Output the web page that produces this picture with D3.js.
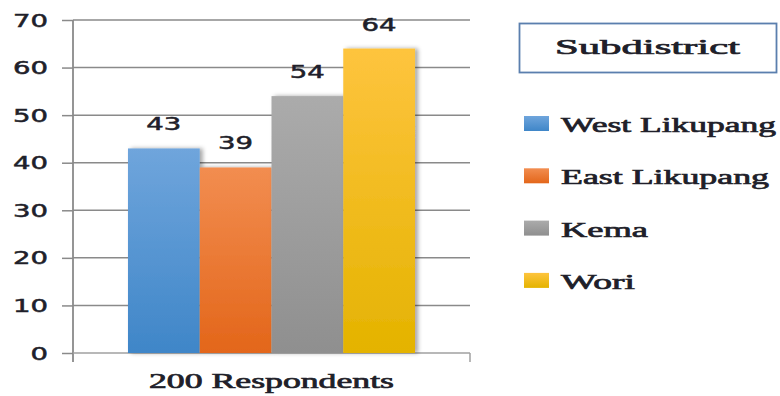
<!DOCTYPE html>
<html>
<head>
<meta charset="utf-8">
<script src="https://cdn.jsdelivr.net/npm/d3@7"></script>
<style>
  html, body { margin: 0; padding: 0; background: #fff; }
  svg { display: block; }
</style>
</head>
<body>
<div id="chart"></div>
<script>
// ---- data ----
const category = "200 Respondents";
const seriesNames = ["West Likupang", "East Likupang", "Kema", "Wori"];
const seriesValues = [43, 39, 54, 64];
const yTicks = [0, 10, 20, 30, 40, 50, 60, 70];
const legendTitle = "Subdistrict";
const colorsTop = ["#6fa5dc", "#f28d50", "#ababab", "#fec43e"];
const colorsBottom = ["#3f86c8", "#e3661a", "#8f8f8f", "#e4b300"];

const W = 780, H = 396;
const svg = d3.select("#chart").append("svg").attr("width", W).attr("height", H);

const defs = svg.append("defs");
seriesNames.forEach((s, i) => {
  const g = defs.append("linearGradient").attr("id", "grad" + i)
    .attr("x1", 0).attr("y1", 0).attr("x2", 0).attr("y2", 1);
  g.append("stop").attr("offset", "0%").attr("stop-color", colorsTop[i]);
  g.append("stop").attr("offset", "100%").attr("stop-color", colorsBottom[i]);
});
const f = defs.append("filter").attr("id", "shadow").attr("x", "-20%").attr("y", "-5%").attr("width", "140%").attr("height", "110%");
f.append("feDropShadow").attr("dx", 3).attr("dy", 0).attr("stdDeviation", 2.2)
  .attr("flood-color", "#000").attr("flood-opacity", 0.35);

const x0 = 73, x1 = 470, y0 = 353, y1 = 20;
const y = d3.scaleLinear().domain([0, 70]).range([y0, y1]);
const xBand = d3.scaleBand().domain([category]).range([x0, x1]).paddingInner(0).paddingOuter(0.1916);
const xInner = d3.scaleBand().domain(seriesNames).range([0, xBand.bandwidth()]).padding(0);

const axisColor = "#8a8a8a";
const textColor = "#1f1f2a";
const serif = "Liberation Serif";

// gridlines
svg.append("g").selectAll("line").data(yTicks.filter(t => t > 0)).join("line")
  .attr("x1", x0).attr("x2", x1).attr("y1", d => y(d)).attr("y2", d => y(d))
  .attr("stroke", axisColor).attr("stroke-width", 1.5);

// y axis
const yAxis = d3.axisLeft(y).tickValues(yTicks).tickSize(11).tickPadding(14).tickFormat(d3.format("d"));
const gy = svg.append("g").attr("transform", `translate(${x0},0)`).call(yAxis);
gy.select(".domain").remove();
gy.append("line").attr("x1", 0).attr("x2", 0).attr("y1", y1).attr("y2", 362)
  .attr("stroke", axisColor).attr("stroke-width", 1.8);
gy.selectAll(".tick line").attr("stroke", axisColor).attr("stroke-width", 1.5);
gy.selectAll(".tick text")
  .attr("font-family", "DejaVu Sans").attr("font-size", 17).attr("fill", textColor)
  .attr("stroke", textColor).attr("stroke-width", 0.5)
  .attr("dy", "0.36em")
  .attr("textLength", d => String(d).length * 17.5)
  .attr("lengthAdjust", "spacingAndGlyphs");

// x axis
const xAxis = d3.axisBottom(xBand).tickSize(0).tickPadding(0);
const gx = svg.append("g").attr("transform", `translate(0,${y0})`).call(xAxis);
gx.select(".domain").remove();
gx.append("line").attr("x1", x0).attr("x2", x1).attr("y1", 0).attr("y2", 0)
  .attr("stroke", "#a0a0a0").attr("stroke-width", 1.5);
gx.append("line").attr("x1", x1).attr("x2", x1).attr("y1", 0).attr("y2", 9)
  .attr("stroke", "#a0a0a0").attr("stroke-width", 1.5);
gx.selectAll(".tick text")
  .attr("font-family", serif).attr("font-size", 21)
  .attr("fill", textColor).attr("stroke", textColor).attr("stroke-width", 0.7)
  .attr("y", 35).attr("dy", 0)
  .attr("textLength", 245).attr("lengthAdjust", "spacingAndGlyphs");

// bars
const gb = svg.append("g").attr("transform", `translate(${xBand(category)},0)`);
gb.selectAll("rect").data(seriesValues).join("rect")
  .attr("x", (d, i) => xInner(seriesNames[i]))
  .attr("width", xInner.bandwidth())
  .attr("y", d => y(d))
  .attr("height", d => y0 - y(d))
  .attr("fill", (d, i) => `url(#grad${i})`)
  .attr("filter", "url(#shadow)");

// data labels
gb.selectAll("text").data(seriesValues).join("text")
  .attr("x", (d, i) => xInner(seriesNames[i]) + xInner.bandwidth() / 2)
  .attr("y", d => y(d) - 18)
  .attr("text-anchor", "middle")
  .attr("font-family", "DejaVu Sans").attr("font-size", 17).attr("fill", textColor)
  .attr("stroke", textColor).attr("stroke-width", 0.5)
  .attr("textLength", 35).attr("lengthAdjust", "spacingAndGlyphs")
  .text(d => d);

// legend
const lg = svg.append("g");
lg.append("rect").attr("x", 519.5).attr("y", 23.5).attr("width", 257).attr("height", 49)
  .attr("fill", "#fff").attr("stroke", "#5b7fae").attr("stroke-width", 1.8);
lg.append("text").attr("x", 555).attr("y", 54)
  .attr("font-family", serif).attr("font-size", 21)
  .attr("fill", textColor).attr("stroke", textColor).attr("stroke-width", 0.7)
  .attr("textLength", 185).attr("lengthAdjust", "spacingAndGlyphs")
  .text(legendTitle);
const legendWidths = [215, 208, 87, 74];
const items = lg.selectAll("g.item").data(seriesNames).join("g").attr("class", "item")
  .attr("transform", (d, i) => `translate(0,${132 + i * 52.3})`);
items.append("rect").attr("x", 524).attr("y", -16).attr("width", 25).attr("height", 15)
  .attr("fill", (d, i) => `url(#grad${i})`);
items.append("text").attr("x", 561).attr("y", 0)
  .attr("font-family", serif).attr("font-size", 21)
  .attr("fill", textColor).attr("stroke", textColor).attr("stroke-width", 0.7)
  .attr("textLength", (d, i) => legendWidths[i]).attr("lengthAdjust", "spacingAndGlyphs")
  .text(d => d);
</script>
</body>
</html>
